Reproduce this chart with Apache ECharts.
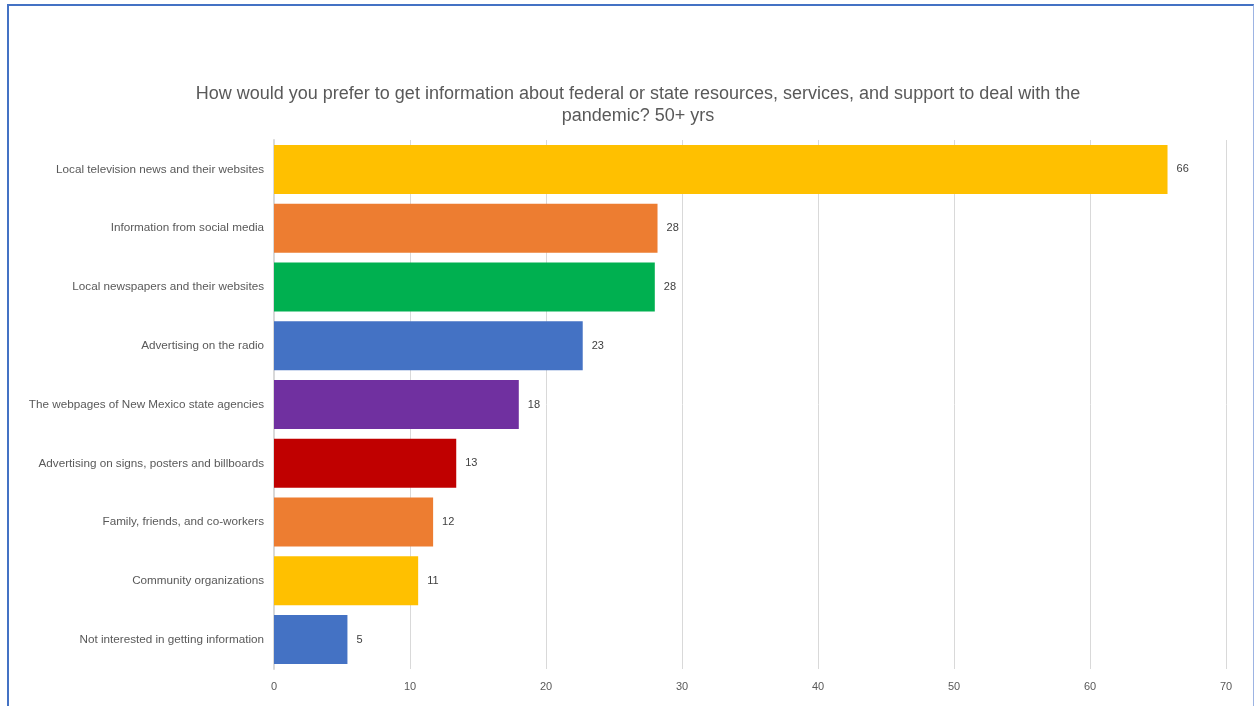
<!DOCTYPE html>
<html>
<head>
<meta charset="utf-8">
<title>Preferred information sources, 50+ yrs</title>
<script src="https://cdn.jsdelivr.net/npm/echarts@6/dist/echarts.min.js"></script>
<style>
  html, body { margin: 0; padding: 0; background: #ffffff; overflow: hidden; }
  #frame {
    position: absolute; left: 7px; top: 4px; width: 1247px; height: 720px;
    border-top: 2px solid #4472c4; border-left: 2px solid #4472c4;
    border-right: 1px solid #9db4e3; box-sizing: border-box;
  }
  #chart { position: absolute; left: 0; top: 0; width: 1257px; height: 706px; }
</style>
</head>
<body>
<div id="frame"></div>
<div id="chart"></div>
<script>
// Survey answers, top to bottom
const categories = [
  'Local television news and their websites',
  'Information from social media',
  'Local newspapers and their websites',
  'Advertising on the radio',
  'The webpages of New Mexico state agencies',
  'Advertising on signs, posters and billboards',
  'Family, friends, and co-workers',
  'Community organizations',
  'Not interested in getting information'
];
// Percent of respondents choosing each source
const values = [65.7, 28.2, 28.0, 22.7, 18.0, 13.4, 11.7, 10.6, 5.4];
const barColors = ['#ffc000', '#ed7d31', '#00b050', '#4472c4', '#7030a0', '#c00000', '#ed7d31', '#ffc000', '#4472c4'];
const xTicks = [0, 10, 20, 30, 40, 50, 60, 70];

const chart = echarts.init(document.getElementById('chart'));
const font = 'Liberation Sans, Arial, sans-serif';

chart.setOption({
  animation: false,
  title: {
    text: 'How would you prefer to get information about federal or state resources, services, and support to deal with the\npandemic? 50+ yrs',
    left: 633, top: 78, textAlign: 'center',
    textStyle: { fontFamily: font, fontSize: 18, fontWeight: 'normal', color: '#595959', lineHeight: 22 }
  },
  grid: { left: 274, right: 31, top: 140, bottom: 37, containLabel: false },
  xAxis: {
    type: 'value', min: xTicks[0], max: xTicks[xTicks.length - 1], interval: 10,
    axisLine: { show: false }, axisTick: { show: false },
    splitLine: { lineStyle: { color: '#d9d9d9', width: 1 } },
    axisLabel: { fontFamily: font, fontSize: 11, color: '#595959', margin: 12 }
  },
  yAxis: {
    type: 'category', data: categories, inverse: true,
    axisLine: { show: true, lineStyle: { color: '#d9d9d9', width: 2 } },
    axisTick: { show: false },
    axisLabel: { fontFamily: font, fontSize: 11.7, color: '#595959', margin: 10 }
  },
  series: [{
    type: 'bar',
    barWidth: 49,
    data: values.map((v, i) => ({ value: v, itemStyle: { color: barColors[i] } })),
    label: {
      show: true, position: 'right', distance: 9,
      fontFamily: font, fontSize: 11, color: '#404040',
      formatter: p => Math.round(p.value)
    }
  }]
});
</script>
</body>
</html>
